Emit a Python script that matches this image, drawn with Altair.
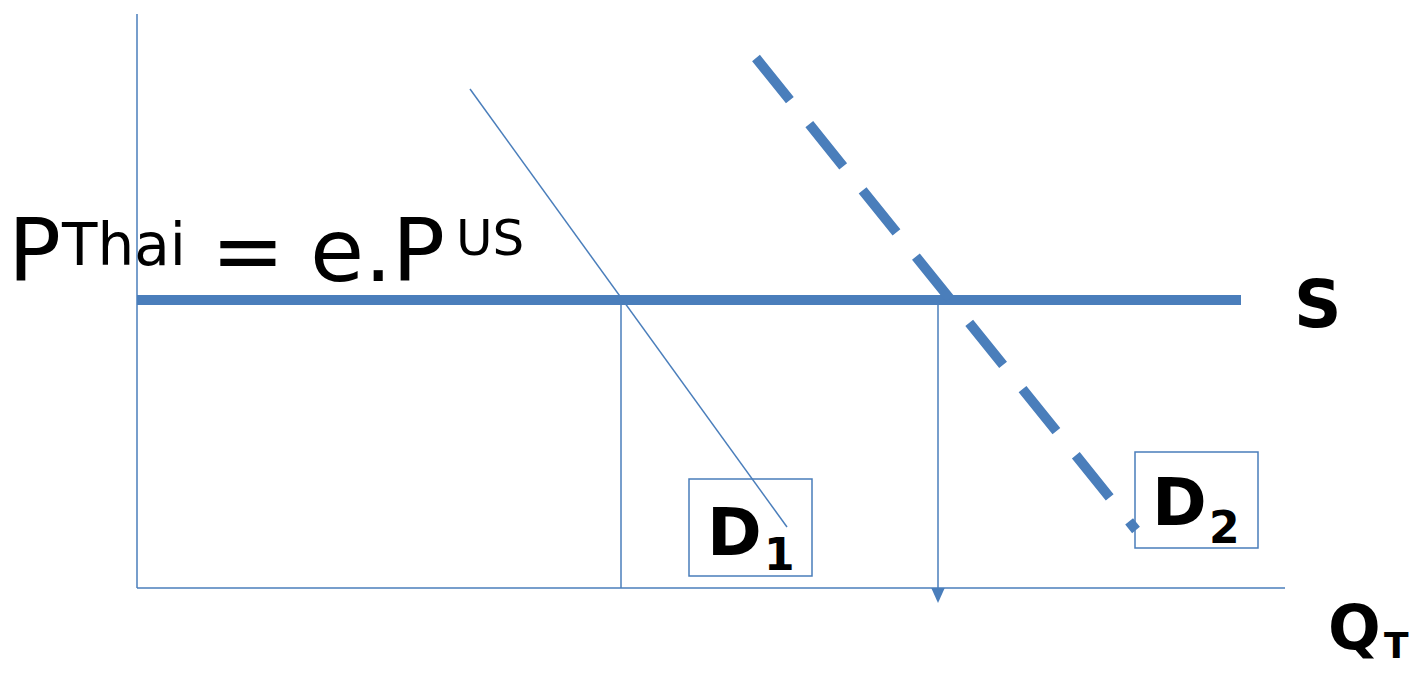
import altair as alt
import pandas as pd

BLUE = "#4A7EBB"
FONT = "DejaVu Sans"

# ---- diagram values (quantity q, price p; origin at the axes corner) ----
p_world = 288          # P_Thai = e.P_US (world supply price)
q_axis_end = 1148      # length of quantity axis
p_axis_top = 574       # height of price axis
q_supply_end = 1104    # where the supply line S stops

d1_q = [333, 650]      # demand D1 end points
d1_p = [499, 61]
d2_q = [619, 999]      # demand D2 end points (dashed)
d2_p = [530, 58]

q_eq = [484, 801]      # quantities demanded at the world price (D1, D2)

box_names = ["D1", "D2"]
box_q0 = [552, 998]
box_q1 = [675, 1121]
box_p0 = [12, 40]
box_p1 = [109, 136]

# text annotations
txt = ["P", "Thai", "=", "e.P", "US", "S", "D", "1", "D", "2", "Q", "T"]
txt_q = [-129, -75, 74, 173, 319, 1157, 570, 627, 1015, 1072, 1191, 1247]
txt_p = [307, 323, 307, 307, 333, 261, 33, 18, 63, 45, -61, -70]
txt_size = [88, 58, 88, 88, 50, 66, 66, 44, 66, 44, 62, 36]
txt_bold = [False, False, False, False, False, True, True, True, True, True, True, True]

# ---- scales ----
W, H = 1404, 659
xs = alt.Scale(domain=[-129, -129 + W], nice=False, zero=False)
ys = alt.Scale(domain=[580 - H, 580], nice=False, zero=False)


def X(f):
    return alt.X(f, type="quantitative", scale=xs, axis=None)


def Y(f):
    return alt.Y(f, type="quantitative", scale=ys, axis=None)


# axes of the diagram
axes_df = pd.DataFrame({
    "q": [0, 0], "q2": [0, q_axis_end],
    "p": [0, 0], "p2": [p_axis_top, 0],
})
axes = alt.Chart(axes_df).mark_rule(color=BLUE, strokeWidth=1.5).encode(
    x=X("q"), x2="q2", y=Y("p"), y2="p2")

# vertical drop lines from the world price to the quantity axis
drop_df = pd.DataFrame({"q": q_eq, "p": [p_world, p_world], "p2": [0, 0]})
drops = alt.Chart(drop_df).mark_rule(color=BLUE, strokeWidth=1.5).encode(
    x=X("q"), y=Y("p"), y2="p2")

# arrow head below second drop line
arrow_df = pd.DataFrame({"q": [q_eq[1]], "p": [-7.5]})
arrow = alt.Chart(arrow_df).mark_point(
    shape="M -0.9 -1 L 0.9 -1 L 0 1 Z", size=225, filled=True,
    color=BLUE, opacity=1).encode(x=X("q"), y=Y("p"))

# supply line S
s_df = pd.DataFrame({"q": [0], "q2": [q_supply_end], "p": [p_world]})
supply = alt.Chart(s_df).mark_rule(color=BLUE, strokeWidth=10, strokeCap="butt").encode(
    x=X("q"), x2="q2", y=Y("p"))

# label boxes
box_df = pd.DataFrame({"name": box_names, "q": box_q0, "q2": box_q1,
                       "p": box_p0, "p2": box_p1})
boxes = alt.Chart(box_df).mark_rect(fillOpacity=0, fill="white", stroke=BLUE,
                                    strokeWidth=1.5).encode(
    x=X("q"), x2="q2", y=Y("p"), y2="p2")

# demand curves
d1_df = pd.DataFrame({"q": d1_q, "p": d1_p, "o": [0, 1]})
d1 = alt.Chart(d1_df).mark_line(color=BLUE, strokeWidth=1.5).encode(
    x=X("q"), y=Y("p"), order="o")

d2_df = pd.DataFrame({"q": d2_q, "p": d2_p, "o": [0, 1]})
d2 = alt.Chart(d2_df).mark_line(color=BLUE, strokeWidth=10, strokeDash=[54, 31],
                                strokeCap="butt").encode(
    x=X("q"), y=Y("p"), order="o")

# text
t_df = pd.DataFrame({"t": txt, "q": txt_q, "p": txt_p, "s": txt_size,
                     "w": ["bold" if b else "normal" for b in txt_bold]})
texts_regular = alt.Chart(t_df[t_df.w == "normal"]).mark_text(
    align="left", baseline="alphabetic", font=FONT, color="black").encode(
    x=X("q"), y=Y("p"), text="t",
    size=alt.Size("s:Q", scale=None, legend=None))
texts_bold = alt.Chart(t_df[t_df.w == "bold"]).mark_text(
    align="left", baseline="alphabetic", font=FONT, fontWeight="bold",
    color="black").encode(
    x=X("q"), y=Y("p"), text="t",
    size=alt.Size("s:Q", scale=None, legend=None))

chart = alt.layer(boxes, axes, drops, supply, d1, d2, arrow,
                  texts_regular, texts_bold).properties(
    width=W, height=H,
    autosize=alt.AutoSizeParams(type="none"),
    padding=0,
    background="white",
).configure_view(stroke=None)

chart.save("out.html", embed_options={"renderer": "svg", "actions": False})
